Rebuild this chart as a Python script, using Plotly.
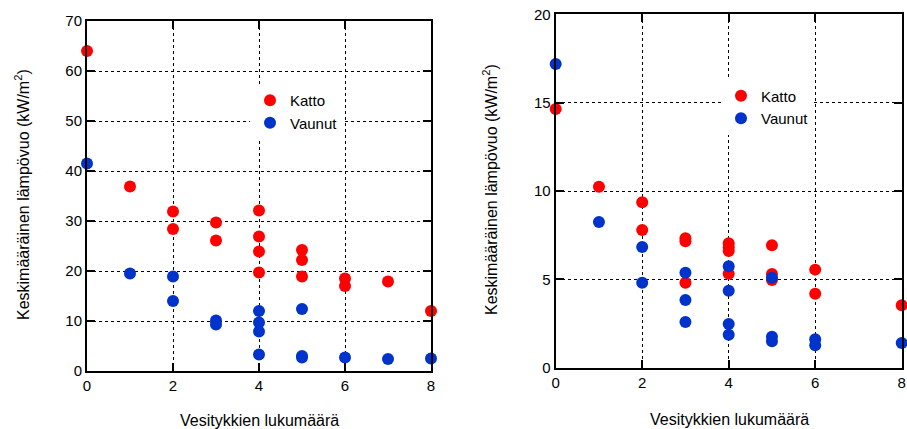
import plotly.graph_objects as go

# Number of water cannons (x) and mean heat flux (kW/m2), two test cases
left_katto_x = [0, 1, 2, 2, 3, 3, 4, 4, 4, 4, 5, 5, 5, 6, 6, 7, 8]
left_katto_y = [64.0, 36.9, 31.9, 28.4, 29.7, 26.1, 32.1, 26.9, 23.9, 19.7,
                24.2, 22.2, 18.9, 18.5, 17.0, 17.9, 12.0]
left_vaunut_x = [0, 1, 2, 2, 3, 3, 4, 4, 4, 4, 5, 5, 5, 6, 7, 8]
left_vaunut_y = [41.5, 19.5, 18.9, 14.0, 10.1, 9.3, 12.0, 9.7, 7.9, 3.3,
                 12.4, 3.0, 2.7, 2.7, 2.4, 2.5]

right_katto_x = [0, 1, 2, 2, 3, 3, 3, 4, 4, 4, 4, 5, 5, 5, 6, 6, 8]
right_katto_y = [14.64, 10.24, 9.36, 7.79, 7.32, 7.15, 4.81, 7.05, 6.82, 6.6,
                 5.32, 6.93, 5.3, 4.96, 5.55, 4.19, 3.53]
right_vaunut_x = [0, 1, 2, 2, 3, 3, 3, 4, 4, 4, 4, 5, 5, 5, 6, 6, 8]
right_vaunut_y = [17.19, 8.25, 6.83, 4.81, 5.38, 3.83, 2.59, 5.74, 4.36, 2.47,
                  1.87, 5.09, 1.75, 1.5, 1.61, 1.27, 1.40]

x_ticks = [0, 2, 4, 6, 8]
left_y_ticks = [0, 10, 20, 30, 40, 50, 60, 70]
right_y_ticks = [0, 5, 10, 15, 20]

RED = "#ff0000"
BLUE = "#0033cc"
FONT = "Liberation Sans, Arial, sans-serif"
MSIZE = 12
W, H = 907, 429

fig = go.Figure()

def add_series(x, y, name, color, xa, ya, legend):
    fig.add_trace(go.Scatter(
        x=x, y=y, mode="markers", name=name,
        marker=dict(color=color, size=MSIZE, line=dict(width=0)),
        xaxis=xa, yaxis=ya, legend=legend, cliponaxis=False,
    ))

add_series(left_katto_x, left_katto_y, "Katto", RED, "x", "y", "legend")
add_series(left_vaunut_x, left_vaunut_y, "Vaunut", BLUE, "x", "y", "legend")
add_series(right_katto_x, right_katto_y, "Katto", RED, "x2", "y2", "legend2")
add_series(right_vaunut_x, right_vaunut_y, "Vaunut", BLUE, "x2", "y2", "legend2")

axis_common = dict(
    showline=True, linecolor="black", linewidth=2, mirror="ticks",
    ticks="inside", ticklen=8, tickwidth=2, tickcolor="black",
    showgrid=True, gridcolor="black", gridwidth=1, griddash="dot",
    zeroline=False, tickfont=dict(family=FONT, size=15, color="black"),
    fixedrange=True, automargin=False,
)

def px_x(v):
    return v / W

def px_y(v):
    return 1 - v / H

fig.update_layout(
    width=W, height=H,
    margin=dict(l=0, r=0, t=0, b=0, autoexpand=False),
    paper_bgcolor="white", plot_bgcolor="white",
    font=dict(family=FONT, size=15, color="black"),
    xaxis=dict(domain=[px_x(87), px_x(431)], range=[0, 8], tickvals=x_ticks,
               anchor="y", **axis_common),
    yaxis=dict(domain=[px_y(371), px_y(21)], range=[0, 70], tickvals=left_y_ticks,
               anchor="x", **axis_common),
    xaxis2=dict(domain=[px_x(555.7), px_x(901.7)], range=[0, 8], tickvals=x_ticks,
                anchor="y2", **axis_common),
    yaxis2=dict(domain=[px_y(367.7), px_y(14.3)], range=[0, 20], tickvals=right_y_ticks,
                anchor="x2", **axis_common),
    legend=dict(x=px_x(250), y=px_y(84), xanchor="left", yanchor="top",
                bgcolor="white", borderwidth=0,
                font=dict(family=FONT, size=15), tracegroupgap=0,
                itemsizing="constant"),
    legend2=dict(x=px_x(721), y=px_y(79.5), xanchor="left", yanchor="top",
                 bgcolor="white", borderwidth=0,
                 font=dict(family=FONT, size=15), tracegroupgap=0,
                 itemsizing="constant"),
    showlegend=True,
)

y_title = "Keskimääräinen lämpövuo (kW/m<sup>2</sup>)"
x_title = "Vesitykkien lukumäärä"
ann_font = dict(family=FONT, size=16, color="black")
common_ann = dict(xref="paper", yref="paper", showarrow=False, font=ann_font,
                  xanchor="center", yanchor="middle")
fig.add_annotation(text=y_title, x=px_x(22), y=px_y(195), textangle=-90, **common_ann)
fig.add_annotation(text=y_title, x=px_x(490), y=px_y(190), textangle=-90, **common_ann)
fig.add_annotation(text=x_title, x=px_x(259), y=px_y(420), **common_ann)
fig.add_annotation(text=x_title, x=px_x(729), y=px_y(419), **common_ann)

fig.write_html("out.html")
